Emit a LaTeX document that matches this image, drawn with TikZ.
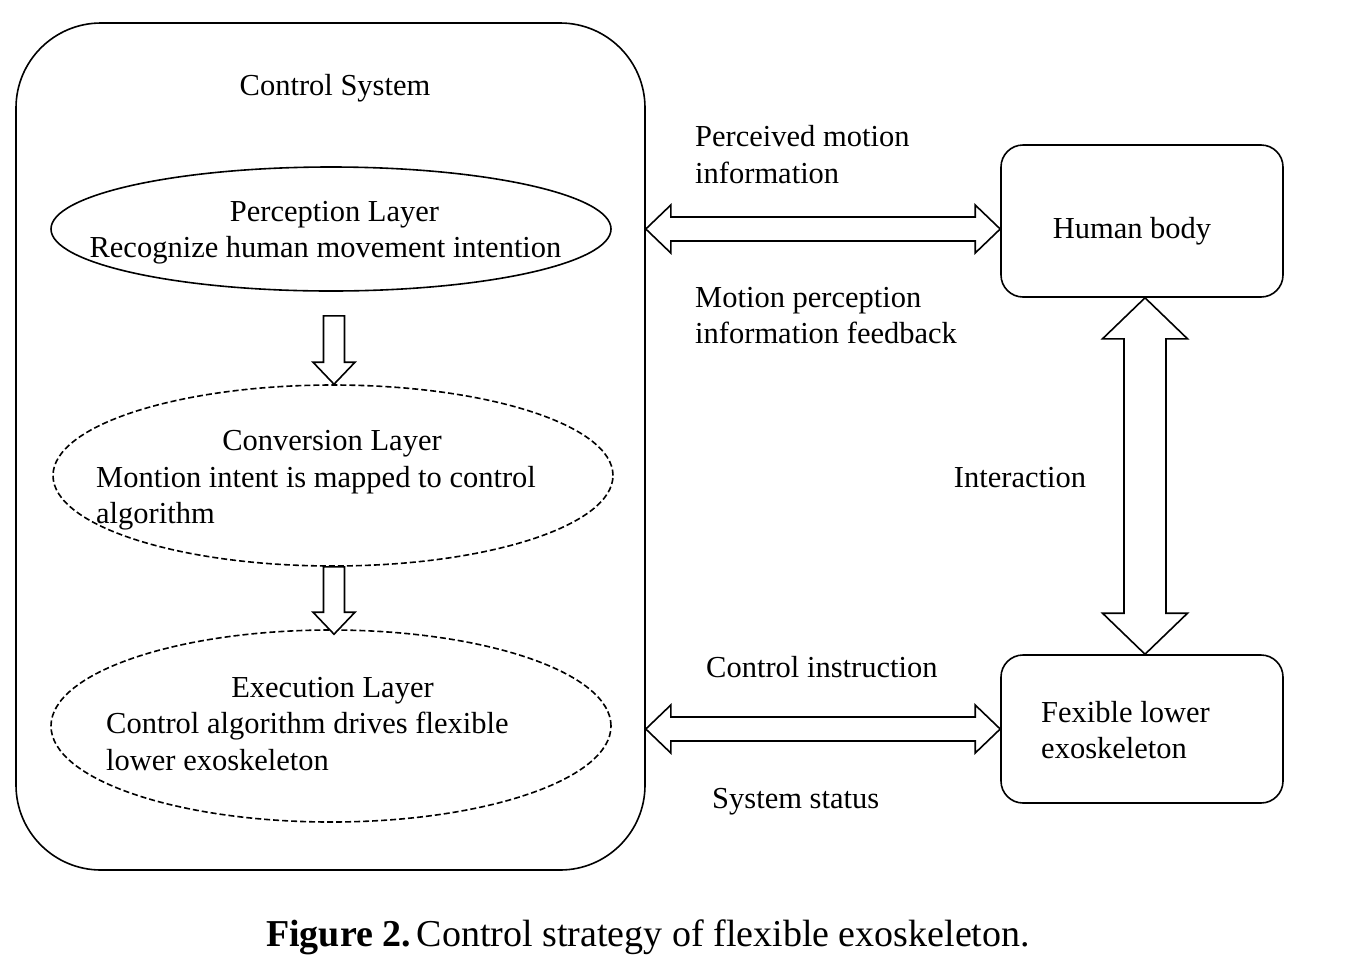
\documentclass[tikz,border=0pt]{standalone}
\usepackage{fontspec}
\setmainfont{Liberation Serif}
\usetikzlibrary{shapes.geometric,calc}
\begin{document}
\begin{tikzpicture}[x=1pt,y=-1pt,
  lbl/.style={font=\fontsize{30.5}{36}\selectfont, inner sep=0pt},
  ell/.style={draw, line width=1.6pt, ellipse, inner sep=0pt},
  dashell/.style={ell, dash pattern=on 6pt off 3pt},
  rbox/.style={draw, line width=1.6pt, rounded corners=22pt, inner sep=0pt},
  blk/.style={draw, line width=1.6pt, line join=miter, fill=white}]
\useasboundingbox (0,0) rectangle (1348,959);
% control system frame
\node[draw, line width=1.6pt, rounded corners=85pt, minimum width=629pt, minimum height=847pt, inner sep=0pt] (cs) at (330.5,446.5) {};
\node[lbl, anchor=base] (cst) at (335,95) {Control System};
% ellipses
\node[ell, minimum width=560pt, minimum height=124pt] (pl) at (331,229) {};
\node[dashell, minimum width=560pt, minimum height=181pt] (cl) at (333,475.5) {};
\node[dashell, minimum width=560pt, minimum height=192pt] (el) at (331,726) {};
% ellipse texts
\node[lbl, anchor=base] (plt1) at (334.5,221) {Perception Layer};
\node[lbl, anchor=base] (plt2) at (325.5,257) {Recognize human movement intention};
\node[lbl, anchor=base] (clt1) at (332,450) {Conversion Layer};
\node[lbl, anchor=base west] (clt2) at (96,487) {Montion intent is mapped to control};
\node[lbl, anchor=base west] (clt3) at (96,523) {algorithm};
\node[lbl, anchor=base] (elt1) at (332.5,697) {Execution Layer};
\node[lbl, anchor=base west] (elt2) at (106,733) {Control algorithm drives flexible};
\node[lbl, anchor=base west] (elt3) at (106,770) {lower exoskeleton};
% right boxes
\node[rbox, minimum width=282pt, minimum height=152pt] (hb) at (1142,221) {};
\node[lbl, anchor=base] (hbt) at (1132,238) {Human body};
\node[rbox, minimum width=282pt, minimum height=148pt] (fx) at (1142,729) {};
\node[lbl, anchor=base west] (fxt1) at (1041,722) {Fexible lower};
\node[lbl, anchor=base west] (fxt2) at (1041,758) {exoskeleton};
% labels
\node[lbl, anchor=base west] (pm1) at (695,146) {Perceived motion};
\node[lbl, anchor=base west] (pm2) at (695,183) {information};
\node[lbl, anchor=base west] (mp1) at (695,307) {Motion perception};
\node[lbl, anchor=base west] (mp2) at (695,343) {information feedback};
\node[lbl, anchor=base] (ia) at (1020,487) {Interaction};
\node[lbl, anchor=base west] (ci) at (706,677) {Control instruction};
\node[lbl, anchor=base west] (ss) at (712,808) {System status};
% caption
\node[anchor=base, inner sep=0pt, font=\fontsize{38}{44}\selectfont] (cap) at (648,946) {\textbf{Figure 2.}\hspace{0.15em}Control strategy of flexible exoskeleton.};
% connector coordinates
\coordinate (d1s) at ($(pl.south)+(3,24)$);
\coordinate (d1e) at (d1s |- cl.north);
\coordinate (d2s) at ($(cl.south)+(1,0)$);
\coordinate (d2e) at ($(d2s |- el.north)+(0,5)$);
\coordinate (h1l) at (cs.east |- pl.east);
\coordinate (h1r) at (hb.west |- pl.east);
\coordinate (h2l) at (cs.east |- fx.west);
\coordinate (h2r) at (fx.west);
\coordinate (vt) at ($(hb.south)+(3,0)$);
\coordinate (vb) at ($(fx.north)+(3,0)$);
% down block arrows
\draw[blk] ($(d1s)+(-10.5,0)$) -- ++(21,0) -- ($(d1e)+(10.5,-22)$) -- ++(10.5,0) -- (d1e) -- ++(-21,-22) -- ++(10.5,0) -- cycle;
\draw[blk] ($(d2s)+(-10.5,0)$) -- ++(21,0) -- ($(d2e)+(10.5,-22)$) -- ++(10.5,0) -- (d2e) -- ++(-21,-22) -- ++(10.5,0) -- cycle;
% horizontal double block arrows
\draw[blk] (h1l) -- ++(25,-24) -- ++(0,12) -- ($(h1r)+(-25,-12)$) -- ++(0,-12) -- (h1r) -- ++(-25,24) -- ++(0,-12) -- ($(h1l)+(25,12)$) -- ++(0,12) -- cycle;
\draw[blk] (h2l) -- ++(25,-24) -- ++(0,12) -- ($(h2r)+(-25,-12)$) -- ++(0,-12) -- (h2r) -- ++(-25,24) -- ++(0,-12) -- ($(h2l)+(25,12)$) -- ++(0,12) -- cycle;
% vertical double block arrow
\draw[blk] (vt) -- ++(42.5,41) -- ++(-21.5,0) -- ($(vb)+(21,-41)$) -- ++(21.5,0) -- (vb) -- ++(-42.5,-41) -- ++(21.5,0) -- ($(vt)+(-21,41)$) -- ++(-21.5,0) -- cycle;
\end{tikzpicture}
\end{document}
